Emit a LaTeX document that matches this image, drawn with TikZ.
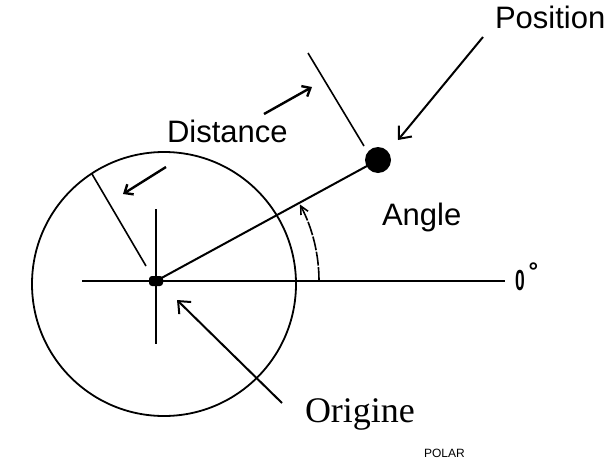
\documentclass[tikz,border=0pt]{standalone}
\usepackage{fontspec}
\setmainfont{Liberation Sans}
\newfontfamily\timesfont{Liberation Serif}
\usetikzlibrary{arrows.meta}
\begin{document}
\begin{tikzpicture}[x=1pt,y=-1pt,line width=2pt,
  lbl/.style={inner sep=0pt,font=\fontsize{31}{31}\selectfont},
  bigarrow/.style={-{Straight Barb[length=10pt,width=17pt]},line width=2pt},
  smallarrow/.style={-{Straight Barb[length=7pt,width=12pt]},line width=2.4pt}]
\useasboundingbox (0,0) rectangle (608,461);
% points
\node[circle, fill, inner sep=0pt, minimum size=26pt] (pos) at (378,160) {};
\node[rectangle, rounded corners=3pt, fill, inner sep=0pt, minimum width=14pt, minimum height=10pt] (orig) at (156,281) {};
% labels
\node[lbl, anchor=base west] (position) at (494,28) {Position};
\node[lbl, anchor=base west] (distance) at (166,142) {Distance};
\node[lbl, anchor=base west] (angle) at (381,225) {Angle};
\node[inner sep=0pt, anchor=base west, font=\fontsize{36}{36}\selectfont\timesfont] (origine) at (304,422) {Origine};
\node[inner sep=0pt, anchor=base west, font=\fontsize{29}{29}\selectfont\bfseries] (zero) at (514,290) {\scalebox{0.6}[1]{0}\hspace{4pt}\raisebox{11pt}{\fontsize{24}{24}\selectfont\textdegree}};
\node[inner sep=0pt, anchor=base west, font=\fontsize{12}{12}\selectfont] (polar) at (423,457) {POLAR};
% axes
\coordinate (west) at (82,281);
\coordinate (east) at (505,281);
\coordinate (north) at (156,209);
\coordinate (south) at (156,344);
\draw (west) -- (east);
\draw (north) -- (south);
\draw (orig.center) -- (pos.center);
\draw[line width=1.8pt] (164,284) circle[radius=132];
% distance marks
\coordinate (t1a) at (308,53);
\coordinate (t1b) at (364,146);
\coordinate (t2a) at (92,174);
\coordinate (t2b) at (146,266);
\draw[line width=1.6pt] (t1a) -- (t1b);
\draw[line width=1.6pt] (t2a) -- (t2b);
\coordinate (d1a) at (264,114);
\coordinate (d1b) at (312,87);
\coordinate (d2a) at (166,167);
\coordinate (d2b) at (123,194);
\draw[smallarrow] (d1a) -- (d1b);
\draw[smallarrow] (d2a) -- (d2b);
% angle
\draw[-{Straight Barb[length=8pt,width=8pt]}, line width=1.6pt, dash pattern=on 14pt off 1.5pt] (319,281) arc[start angle=0, end angle=-28, radius=163];
% pointers
\coordinate (p1) at (483,37);
\coordinate (p2) at (398,140);
\coordinate (o1) at (282,403);
\coordinate (o2) at (177,300);
\draw[bigarrow] (p1) -- (p2);
\draw[bigarrow] (o1) -- (o2);
\end{tikzpicture}
\end{document}
